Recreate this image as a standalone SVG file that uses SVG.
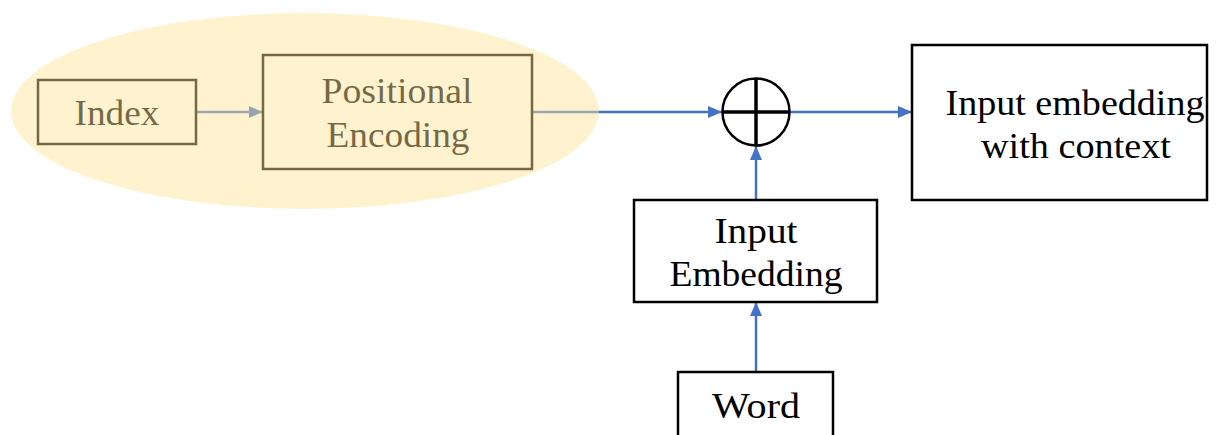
<svg xmlns="http://www.w3.org/2000/svg" width="1220" height="435" viewBox="0 0 1220 435">
  <style>
    .box { fill: #ffffff; stroke: #000000; stroke-width: 2.5; }
    .lbl { font-family: "Liberation Serif", "DejaVu Serif", serif; font-size: 35px; fill: #000000; text-anchor: middle; }
    .edge { stroke: #4472c4; stroke-width: 2.5; fill: none; }
  </style>
  <defs>
    <marker id="arrow" viewBox="0 0 14 12" refX="14" refY="6" markerWidth="14" markerHeight="12" markerUnits="userSpaceOnUse" orient="auto">
      <path d="M0,0 L14,6 L0,12 Z" fill="#4472c4"/>
    </marker>
  </defs>
  <rect width="1220" height="435" fill="#ffffff"/>

  <!-- connectors -->
  <g id="connectors">
    <line class="edge" x1="196" y1="112" x2="263" y2="112" marker-end="url(#arrow)"/>
    <line class="edge" x1="532" y1="112" x2="722" y2="112" marker-end="url(#arrow)"/>
    <line class="edge" x1="790" y1="112" x2="912" y2="112" marker-end="url(#arrow)"/>
    <line class="edge" x1="756" y1="200" x2="756" y2="146" marker-end="url(#arrow)"/>
    <line class="edge" x1="756" y1="372" x2="756" y2="302" marker-end="url(#arrow)"/>
  </g>

  <g id="index">
    <rect class="box" x="38" y="80" width="158" height="64"/>
    <text class="lbl" x="117" y="125" textLength="85" lengthAdjust="spacingAndGlyphs">Index</text>
  </g>

  <g id="positional-encoding">
    <rect class="box" x="263" y="55" width="269" height="114"/>
    <text class="lbl" x="397" y="103" textLength="151" lengthAdjust="spacingAndGlyphs">Positional</text>
    <text class="lbl" x="398" y="147" textLength="143" lengthAdjust="spacingAndGlyphs">Encoding</text>
  </g>

  <g id="sum">
    <circle cx="756" cy="112" r="33.5" fill="#ffffff" stroke="#000000" stroke-width="2.5"/>
    <line x1="722.5" y1="112" x2="789.5" y2="112" stroke="#000000" stroke-width="3.5"/>
    <line x1="756" y1="78.5" x2="756" y2="145.5" stroke="#000000" stroke-width="3.5"/>
  </g>

  <g id="context-embedding">
    <rect class="box" x="912" y="45" width="295" height="155"/>
    <text class="lbl" x="1075" y="115" textLength="259" lengthAdjust="spacingAndGlyphs">Input embedding</text>
    <text class="lbl" x="1076" y="158" textLength="190" lengthAdjust="spacingAndGlyphs">with context</text>
  </g>

  <g id="input-embedding">
    <rect class="box" x="634" y="200" width="243" height="102"/>
    <text class="lbl" x="756" y="243" textLength="83" lengthAdjust="spacingAndGlyphs">Input</text>
    <text class="lbl" x="756" y="286" textLength="173" lengthAdjust="spacingAndGlyphs">Embedding</text>
  </g>

  <g id="word">
    <rect class="box" x="678" y="372" width="155" height="70"/>
    <text class="lbl" x="756" y="418" textLength="88" lengthAdjust="spacingAndGlyphs">Word</text>
  </g>

  <!-- translucent highlight over the positional branch -->
  <g id="positional-highlight">
    <ellipse cx="305" cy="111" rx="294" ry="98" fill="#ffe496" fill-opacity="0.46"/>
  </g>
</svg>
